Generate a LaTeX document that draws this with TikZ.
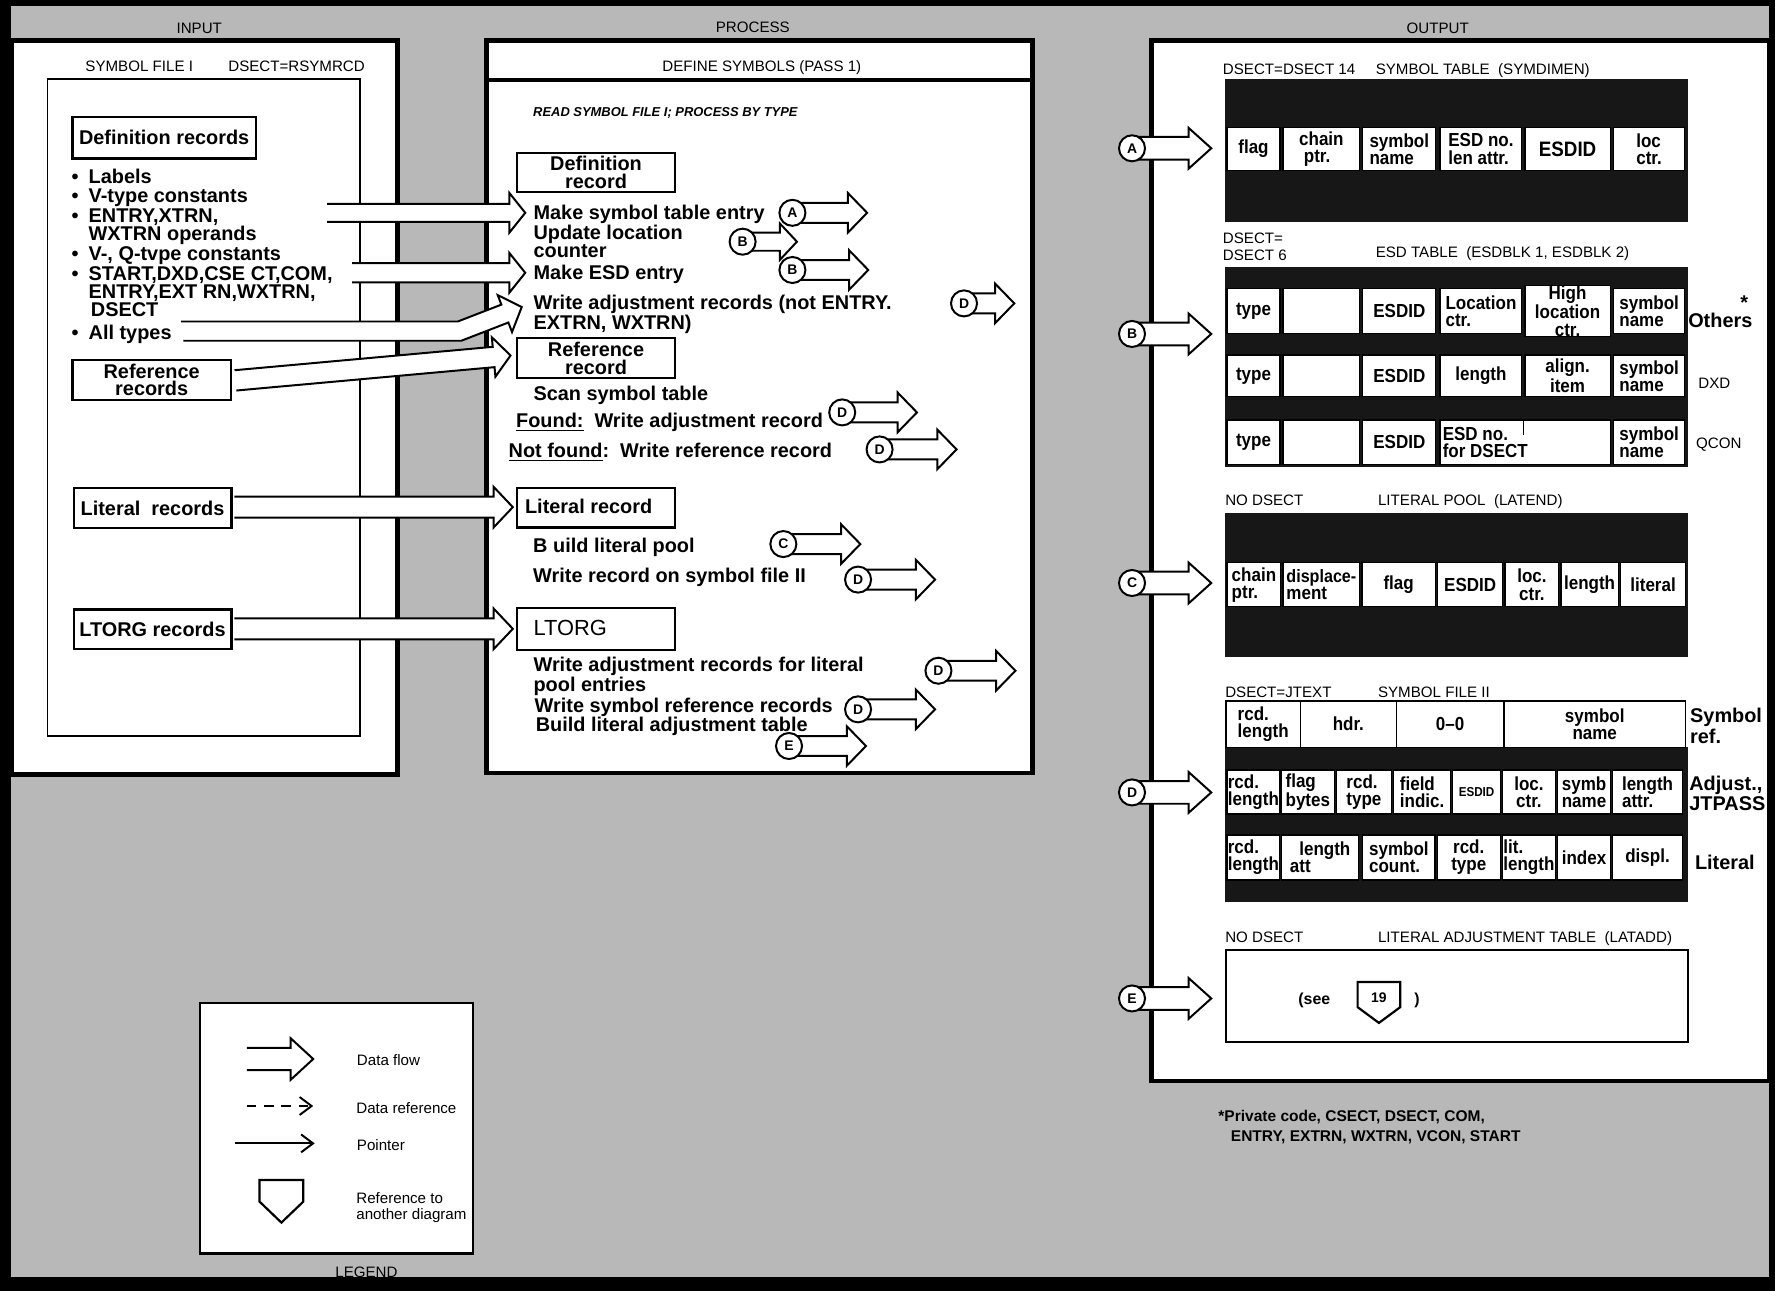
\documentclass[tikz,border=0pt]{standalone}
\usepackage{fontspec}
\setmainfont{Liberation Sans}
\newfontfamily\cellfont{Liberation Sans}[FakeStretch=0.9]
\usetikzlibrary{arrows.meta}
\definecolor{bg}{gray}{0.72}
\definecolor{dk}{gray}{0.09}
\tikzset{
  bl/.style={font=\fontsize{10}{10}\selectfont\bfseries, inner sep=0pt, anchor=west, text height=1.4ex, text depth=0pt},
  bc/.style={font=\fontsize{10}{8.9}\selectfont\bfseries, inner sep=0pt, align=center},
  sm/.style={font=\fontsize{7.6}{7.6}\selectfont, inner sep=0pt, text height=1.4ex, text depth=0pt},
  rbox/.style={draw, line width=1.1pt, fill=white, inner sep=0pt},
  cellbox/.style={draw, line width=0.6pt, fill=white, inner sep=0pt, font=\cellfont\fontsize{9.5}{8.6}\selectfont\bfseries},
  circ/.style={circle, draw, line width=1pt, fill=white, minimum size=0.46cm, inner sep=0pt, font=\fontsize{7}{7}\selectfont\bfseries},
  panel/.style={draw, line width=2.3pt, fill=white},
  fat/.style={fill=white, draw, line width=1pt, line join=miter},
  barb/.style={line width=1pt, -{Straight Barb[length=6pt,width=9pt]}},
}
\newcommand\fatarr[6]{%
  \begin{scope}[shift={#1}, rotate=#2]
    \path[fat] (0,-#4) -- ({#3-#6},-#4) -- ({#3-#6},-#5) -- (#3,0) -- ({#3-#6},#5) -- ({#3-#6},#4) -- (0,#4);
  \end{scope}}
\newcommand\cell[7][left]{%
  \node[cellbox, align=#1, minimum width={(#5-#3)*0.02cm}, minimum height={(#6-#4)*0.02cm}] (#2) at ({(#3+#5)/2},{(#4+#6)/2}) {#7};}
\begin{document}
\begin{tikzpicture}[x=0.02cm,y=-0.02cm]
\useasboundingbox (0,0) rectangle (1568,1140);
\fill[bg] (0,0) rectangle (1568,1140);
\fill[black] (0,0) rectangle (1568,5);
\fill[black] (0,0) rectangle (10,1140);
\fill[black] (0,1128) rectangle (1568,1140);
\fill[black] (1563,0) rectangle (1568,1140);

% headers
\node[sm] (hin) at (176,23) {INPUT};
\node[sm] (hpr) at (665,22) {PROCESS};
\node[sm] (hout) at (1270,23) {OUTPUT};

% panels
\draw[panel] (10,36) rectangle (351,684);
\draw[panel] (430,36) rectangle (912,683);
\draw[panel] (1017,36) rectangle (1563,955);
\draw[line width=2pt] (430,71) -- (912,71);

% ---------------- INPUT ----------------
\node[sm] (sf1) at (123,57) {SYMBOL FILE I};
\node[sm] (rsym) at (262,57) {DSECT=RSYMRCD};
\draw[line width=0.8pt] (42,70) rectangle (318,650);

% input data-flow arrows
\fatarr{(289,188)}{0}{175}{8}{17.5}{14}
\fatarr{(311,241)}{0}{153}{8.5}{17.5}{14}
\path[fat] (160,284) -- (404.4,284) -- (442.9,269.1) -- (439.7,260.7) -- (460.9,271.2) -- (452.3,293.3) -- (449.1,284.9) -- (407.5,301) -- (162,301);
\fatarr{(208,336)}{5.17}{244}{9}{17.5}{15}
\fatarr{(207,448)}{0}{246}{9.25}{18}{17}
\fatarr{(207,555.5)}{0}{246}{9.25}{18}{17}

\node[rbox, minimum width=3.24cm, minimum height=0.74cm, bc] (defrecs) at (145,121.5) {Definition records};
\foreach \y [count=\i] in {156, 172, 190, 224, 241.5, 293}{
  \node[bl] (bul\i) at (63,\y) {\textbullet};
}
\node[bl] (lab1) at (78,156) {Labels};
\node[bl] (lab2) at (78,172) {V-type constants};
\node[bl] (lab3) at (78,190) {ENTRY,XTRN,};
\node[bl] (lab4) at (78,206) {WXTRN operands};
\node[bl] (lab5) at (78,224) {V-, Q-tvpe constants};
\node[bl] (lab6) at (78,241.5) {START,DXD,CSE CT,COM,};
\node[bl] (lab7) at (78,257) {ENTRY,EXT RN,WXTRN,};
\node[bl] (lab8) at (80,273.5) {DSECT};
\node[bl] (lab9) at (78,293) {All types};
\node[rbox, minimum width=2.8cm, minimum height=0.7cm, bc] (refrecs) at (134,335.5) {Reference\\records};
\node[rbox, minimum width=2.79cm, minimum height=0.706cm, bc] (litrecs) at (134.75,449) {Literal\ \ records};
\node[rbox, minimum width=2.79cm, minimum height=0.706cm, bc] (ltorgrecs) at (134.75,556) {LTORG records};

% ---------------- PROCESS ----------------
\node[sm] (ptitle) at (673,57) {DEFINE SYMBOLS (PASS 1)};
\node[font=\fontsize{6.5}{6.5}\selectfont\bfseries\itshape, inner sep=0pt, anchor=west] (readsym) at (470.7,100) {READ SYMBOL FILE I; PROCESS BY TYPE};
\node[rbox, minimum width=2.78cm, minimum height=0.692cm, bc] (pdef) at (526.5,152.3) {Definition\\record};
\node[bl] (p1) at (471,187) {Make symbol table entry};
\node[bl] (p2) at (471,205.5) {Update location};
\node[bl] (p3) at (471,221) {counter};
\node[bl] (p4) at (471,240) {Make ESD entry};
\node[bl] (p5) at (471,266.5) {Write adjustment records (not ENTRY.};
\node[bl] (p6) at (471,285) {EXTRN, WXTRN)};
\node[rbox, minimum width=2.78cm, minimum height=0.708cm, bc] (pref) at (526.5,316.3) {Reference\\record};
\node[bl] (p7) at (471,347) {Scan symbol table};
\node[bl] (p8) at (455.6,371) {\underline{Found:}\ \ Write adjustment record};
\node[bl] (p9) at (449,397.5) {\underline{Not found}:\ \ Write reference record};
\node[rbox, minimum width=2.78cm, minimum height=0.70cm] (plit) at (526.5,448.5) {};
\node[bl] (plitt) at (463.5,447.5) {Literal record};
\node[bl] (p10) at (470.7,482) {B uild literal pool};
\node[bl] (p11) at (470.7,508) {Write record on symbol file II};
\node[rbox, minimum width=2.78cm, minimum height=0.74cm] (pltorg) at (526.5,555.5) {};
\node[bl, font=\fontsize{11}{11}\selectfont] (pltorgt) at (471,555) {LTORG};
\node[bl] (p12) at (471,586.5) {Write adjustment records for literal};
\node[bl] (p13) at (471,604.5) {pool entries};
\node[bl] (p14) at (472,623) {Write symbol reference records};
\node[bl] (p15) at (473,640) {Build literal adjustment table};

% process output arrows with connector circles
\coordinate (pA) at (700,188);   \fatarr{(pA)}{0}{66}{8.8}{17.5}{17}  \node[circ] (pAc) at (pA) {A};
\coordinate (pB1) at (656,213.5);\fatarr{(pB1)}{0}{48}{8}{16}{15}    \node[circ] (pB1c) at (pB1) {B};
\coordinate (pB2) at (700,238.5);\fatarr{(pB2)}{0}{67}{8.8}{17.5}{17} \node[circ] (pB2c) at (pB2) {B};
\coordinate (pD1) at (851.6,268);\fatarr{(pD1)}{0}{44.4}{8.8}{17.5}{17} \node[circ] (pD1c) at (pD1) {D};
\coordinate (pD2) at (744,364.3);\fatarr{(pD2)}{0}{66}{8.8}{17.5}{17} \node[circ] (pD2c) at (pD2) {D};
\coordinate (pD3) at (777,397);  \fatarr{(pD3)}{0}{68}{8.8}{17.5}{17} \node[circ] (pD3c) at (pD3) {D};
\coordinate (pC) at (692,480.6); \fatarr{(pC)}{0}{68}{8.8}{17.5}{17}  \node[circ] (pCc) at (pC) {C};
\coordinate (pD4) at (758,512);  \fatarr{(pD4)}{0}{68}{8.8}{17.5}{17} \node[circ] (pD4c) at (pD4) {D};
\coordinate (pD5) at (829,592.5);\fatarr{(pD5)}{0}{68}{8.8}{17.5}{17} \node[circ] (pD5c) at (pD5) {D};
\coordinate (pD6) at (758,626.6);\fatarr{(pD6)}{0}{68}{8.8}{17.5}{17} \node[circ] (pD6c) at (pD6) {D};
\coordinate (pE) at (697,659);   \fatarr{(pE)}{0}{68}{8.8}{17.5}{17}  \node[circ] (pEc) at (pE) {E};

% ---------------- OUTPUT ----------------
\foreach \n/\y in {A/131, B/295, C/515, D/700, E/882}{
  \coordinate (o\n) at (1000,\y);
  \fatarr{(o\n)}{0}{70}{10}{18}{20}
  \node[circ] (o\n c) at (o\n) {\n};
}

% symbol table
\node[sm, anchor=west] (ds14) at (1080,59) {DSECT=DSECT 14};
\node[sm, anchor=west] (symtab) at (1215,59) {SYMBOL TABLE\ \ (SYMDIMEN)};
\fill[dk] (1082,70) rectangle (1491,196);
\cell{s1}{1083.9}{112.5}{1130.7}{150.8}{flag}
\cell{s2}{1133.4}{112.5}{1201.1}{150.8}{chain\\\ ptr.}
\cell{s3}{1203.9}{112.5}{1268.3}{150.8}{symbol\\name}
\cell{s4}{1272.1}{112.5}{1344.4}{150.8}{ESD no.\\len attr.}
\cell{s5}{1347.1}{112.5}{1422.4}{150.8}{\fontsize{10.5}{10}\selectfont ESDID}
\cell{s6}{1425.4}{112.5}{1488.2}{150.8}{loc\\ctr.}

% ESD table
\node[sm, anchor=west] (dsx) at (1080,209) {DSECT=};
\node[sm, anchor=west] (ds6) at (1080,223.8) {DSECT 6};
\node[sm, anchor=west] (esdt) at (1215,220.8) {ESD TABLE\ \ (ESDBLK 1, ESDBLK 2)};
\fill[dk] (1082,235.6) rectangle (1491,412.3);
\cell{e11}{1083.9}{254.7}{1130.7}{294.5}{type}
\cell{e12}{1133.4}{254.7}{1201.1}{294.5}{}
\cell{e13}{1203.9}{254.7}{1268.3}{294.5}{ESDID}
\cell{e14}{1272.1}{254.7}{1344.4}{294.5}{Location\\ctr.}
\cell[center]{e15}{1347.1}{254.7}{1422.4}{294.5}{\fontsize{9.5}{7.4}\selectfont High\\location\\ctr.}
\cell{e16}{1425.4}{254.7}{1488.2}{294.5}{symbol\\name}
\cell{e21}{1083.9}{313.6}{1130.7}{350.4}{type}
\cell{e22}{1133.4}{313.6}{1201.1}{350.4}{}
\cell{e23}{1203.9}{313.6}{1268.3}{350.4}{ESDID}
\cell{e24}{1272.1}{313.6}{1344.4}{350.4}{length}
\cell[center]{e25}{1347.1}{313.6}{1422.4}{350.4}{align.\\item}
\cell{e26}{1425.4}{313.6}{1488.2}{350.4}{symbol\\name}
\cell{e31}{1083.9}{371}{1130.7}{410}{type}
\cell{e32}{1133.4}{371}{1201.1}{410}{}
\cell{e33}{1203.9}{371}{1268.3}{410}{ESDID}
\cell{e34}{1272.1}{371}{1422.4}{410}{}
\node[cellbox, draw=none, fill=none, align=left, anchor=west] (e34t) at (1274,390.5) {ESD no.\\for DSECT};
\draw[line width=0.6pt] (1345.6,371) -- (1345.6,384);
\cell{e36}{1425.4}{371}{1488.2}{410}{symbol\\name}
\node[bl] (oth) at (1491,283) {Others};
\node[bl] (star) at (1537,267) {*};
\node[sm, anchor=west] (dxd) at (1500,337) {DXD};
\node[sm, anchor=west] (qcon) at (1498,390) {QCON};

% literal pool
\node[sm, anchor=west] (nods1) at (1082,440.2) {NO DSECT};
\node[sm, anchor=west] (litp) at (1217,440.2) {LITERAL POOL\ \ (LATEND)};
\fill[dk] (1082,453.5) rectangle (1491,580.1);
\cell{l1}{1083.9}{497}{1131.5}{536}{chain\\ptr.}
\cell{l2}{1133.4}{497}{1201.1}{536}{\fontsize{9}{8.6}\selectfont displace-\\ment}
\cell{l3}{1203.1}{497}{1267.9}{536}{flag}
\cell{l4}{1269.8}{497}{1327.6}{536}{ESDID}
\cell[center]{l5}{1329.5}{497}{1377}{536}{loc.\\ctr.}
\cell{l6}{1378.9}{497}{1429.5}{536}{length}
\cell{l7}{1431.4}{497}{1489.2}{536}{literal}

% symbol file II
\node[sm, anchor=west] (jtext) at (1082,609.5) {DSECT=JTEXT};
\node[sm, anchor=west] (sf2) at (1217,609.5) {SYMBOL FILE II};
\fill[dk] (1082,660) rectangle (1491,796.5);
\cell{f11}{1083}{619.3}{1148.8}{660.2}{rcd.\\length}
\cell{f12}{1148.8}{619.3}{1233.4}{660.2}{hdr.}
\cell{f13}{1233.4}{619.3}{1328.5}{660.2}{0–0}
\cell[center]{f14}{1328.5}{619.3}{1489}{660.2}{symbol\\name}
\cell{f21}{1083.9}{680.2}{1130.5}{719.1}{rcd.\\length}
\cell{f22}{1131.6}{680.2}{1179}{719.1}{flag\\bytes}
\cell{f23}{1180.5}{680.2}{1229.2}{719.1}{rcd.\\type}
\cell{f24}{1231}{680.2}{1281.5}{719.1}{field\\indic.}
\cell{f25}{1283.4}{680.2}{1325.3}{719.1}{\fontsize{6.5}{6.5}\selectfont ESDID}
\cell[center]{f26}{1327.2}{680.2}{1374}{719.1}{loc.\\ctr.}
\cell{f27}{1376}{680.2}{1422.6}{719.1}{symb\\name}
\cell{f28}{1424.5}{680.2}{1486.3}{719.1}{length\\attr.}
\cell{f31}{1083.9}{737.6}{1130.5}{777.4}{rcd.\\length}
\cell{f32}{1132.3}{737.6}{1200}{777.4}{\ \ length\\att}
\cell{f33}{1203.8}{737.6}{1267.7}{777.4}{symbol\\count.}
\cell[center]{f34}{1269.6}{737.6}{1325.3}{777.4}{rcd.\\type}
\cell{f35}{1327.2}{737.6}{1374}{777.4}{lit.\\length}
\cell{f36}{1376}{737.6}{1422.6}{777.4}{index}
\cell{f37}{1424.5}{737.6}{1486.3}{777.4}{displ.}
\node[bc, align=left, anchor=west] (symref) at (1492.7,641) {Symbol\\ref.};
\node[bc, align=left, anchor=west] (adjj) at (1492,700.5) {Adjust.,\\JTPASS};
\node[bl] (litl) at (1497,762) {Literal};

% literal adjustment table
\node[sm, anchor=west] (nods2) at (1082,826) {NO DSECT};
\node[sm, anchor=west] (latadd) at (1217,826) {LITERAL ADJUSTMENT TABLE\ \ (LATADD)};
\node[draw, line width=1pt, fill=white, minimum width=8.16cm, minimum height=1.632cm, inner sep=0pt] (latbox) at (1287,880) {};
\node[font=\fontsize{8}{8}\selectfont\bfseries, inner sep=0pt, anchor=west] (see) at (1146.6,883.4) {(see};
\draw[line width=1.1pt, fill=white] (1199.3,867.4) -- (1236.9,867.4) -- (1236.9,889.7) -- (1218.1,903.6) -- (1199.3,889.7) -- cycle;
\node[font=\fontsize{7}{7}\selectfont\bfseries, inner sep=0pt] (n19) at (1218.1,881) {19};
\node[font=\fontsize{8}{8}\selectfont\bfseries, inner sep=0pt, anchor=west] (seeend) at (1249,883.4) {)};

% footnote
\node[font=\fontsize{7.8}{7.8}\selectfont\bfseries, inner sep=0pt, anchor=west, text height=1.4ex, text depth=0pt] (fn1) at (1076,984.2) {*Private code, CSECT, DSECT, COM,};
\node[font=\fontsize{7.8}{7.8}\selectfont\bfseries, inner sep=0pt, anchor=west, text height=1.4ex, text depth=0pt] (fn2) at (1087,1001.8) {ENTRY, EXTRN, WXTRN, VCON, START};

% ---------------- LEGEND ----------------
\draw[line width=1.2pt, fill=white] (176.6,885.8) rectangle (417.7,1107.2);
\coordinate (lf) at (218,935.5);
\fatarr{(lf)}{0}{58.7}{9.75}{18.4}{20}
\coordinate (ld1) at (218,977); \coordinate (ld2) at (276.7,977);
\draw[barb, dash pattern=on 4.8pt off 3.9pt] (ld1) -- (ld2);
\coordinate (lp1) at (208,1010); \coordinate (lp2) at (278,1010);
\draw[barb] (lp1) -- (lp2);
\draw[line width=1.1pt] (229.3,1042.3) -- (267.9,1042.3) -- (267.9,1061.5) -- (248.6,1080) -- (229.3,1061.5) -- cycle;
\node[sm, anchor=west] (lt1) at (315,935) {Data flow};
\node[sm, anchor=west] (lt2) at (314.5,977) {Data reference};
\node[sm, anchor=west] (lt3) at (315,1010) {Pointer};
\node[font=\fontsize{7.6}{8.2}\selectfont, inner sep=0pt, align=left, anchor=west] (lt4) at (314.5,1067) {Reference to\\another diagram};
\node[sm] (legend) at (323.7,1122) {LEGEND};
\end{tikzpicture}
\end{document}
